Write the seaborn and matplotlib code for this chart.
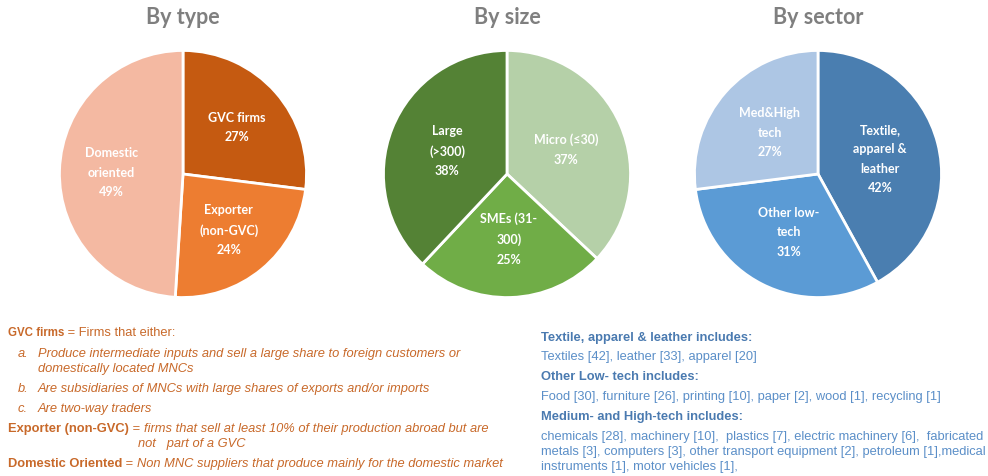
import matplotlib
matplotlib.use('Agg')
import matplotlib.pyplot as plt
import seaborn as sns

# chart data
type_labels = ['GVC firms', 'Exporter\n(non-GVC)', 'Domestic\noriented']
type_shares = [27, 24, 49]
size_labels = ['Micro (≤30)', 'SMEs (31-\n300)', 'Large\n(>300)']
size_shares = [37, 25, 38]
sector_labels = ['Textile,\napparel &\nleather', 'Other low-\ntech', 'Med&High\ntech']
sector_shares = [42, 31, 27]

type_colors = ['#C55A11', '#ED7D31', '#F4B9A2']
size_colors = ['#B5D0A8', '#70AD47', '#548235']
sector_colors = ['#4A7EB0', '#5B9BD5', '#ADC6E4']

sns.set_style('white')
plt.rcParams['font.family'] = ['Liberation Sans', 'DejaVu Sans']

W, H = 988, 477
fig = plt.figure(figsize=(W / 100, H / 100), dpi=100)


def draw_pie(cx, cy, r, shares, labels, colors, title, dist):
    ax = fig.add_axes([(cx - r) / W, 1 - (cy + r) / H, 2 * r / W, 2 * r / H])
    wedges, texts = ax.pie(shares, labels=[f'{l}\n{s}%' for l, s in zip(labels, shares)],
                           colors=colors, startangle=90, counterclock=False,
                           labeldistance=dist,
                           wedgeprops=dict(edgecolor='white', linewidth=2),
                           textprops=dict(color='white', fontsize=9, fontweight='bold',
                                          family=['Lato', 'DejaVu Sans'], linespacing=1.75))
    for t in texts:
        t.set_ha('center')
        t.set_va('center')
    ax.set_xlim(-1.02, 1.02)
    ax.set_ylim(-1.02, 1.02)
    ax.set_aspect('equal')
    ax.axis('off')
    fig.text(cx / W, 1 - 17 / H, title, ha='center', va='center', fontsize=15.5,
             fontweight='bold', color='#7F7F7F', family=['Lato', 'DejaVu Sans'])
    return ax


draw_pie(183, 175, 126, type_shares, type_labels, type_colors, 'By type', 0.58)
draw_pie(507, 175, 126, size_shares, size_labels, size_colors, 'By size', 0.52)
draw_pie(818, 175, 126, sector_shares, sector_labels, sector_colors, 'By sector', 0.52)

# notes below the pies
nax = fig.add_axes([0, 0, 1, 1])
nax.axis('off')
nax.set_xlim(0, 1)
nax.set_ylim(0, 1)


def px(x, y):
    return (x / W, 1 - y / H)


def line(x, y, parts, color):
    prev = None
    for txt, size, weight, style in parts:
        if prev is None:
            prev = nax.text(*px(x, y), txt, fontsize=size, fontweight=weight, fontstyle=style,
                            color=color, ha='left', va='center')
        else:
            prev = nax.annotate(txt, xy=(1, 0), xycoords=prev, fontsize=size, fontweight=weight,
                                fontstyle=style, color=color, ha='left', va='bottom')


orange = '#C8692A'
fs = 9.3
line(8, 333, [('GVC firms', 8.3, 'bold', 'normal'), (' = Firms that either:', fs, 'normal', 'normal')], orange)
line(18, 354, [('a.', fs, 'normal', 'italic')], orange)
line(38, 354, [('Produce intermediate inputs and sell a large share to foreign customers or', fs, 'normal', 'italic')], orange)
line(38, 369, [('domestically located MNCs', fs, 'normal', 'italic')], orange)
line(18, 389, [('b.', fs, 'normal', 'italic')], orange)
line(38, 389, [('Are subsidiaries of MNCs with large shares of exports and/or imports', fs, 'normal', 'italic')], orange)
line(18, 409, [('c.', fs, 'normal', 'italic')], orange)
line(38, 409, [('Are two-way traders', fs, 'normal', 'italic')], orange)
line(8, 429, [('Exporter (non-GVC)', fs, 'bold', 'normal'), (' = ', fs, 'normal', 'normal'),
              ('firms that sell at least 10% of their production abroad but are', fs, 'normal', 'italic')], orange)
line(138, 444, [('not   part of a GVC', fs, 'normal', 'italic')], orange)
line(8, 464, [('Domestic Oriented', fs, 'bold', 'normal'), (' = ', fs, 'normal', 'normal'),
              ('Non MNC suppliers that produce mainly for the domestic market', fs, 'normal', 'italic')], orange)

blue_h = '#4A7AB0'
blue = '#5B8FC8'
fb = 9.3
line(541, 338, [('Textile, apparel & leather includes:', fb, 'bold', 'normal')], blue_h)
line(541, 357, [('Textiles [42], leather [33], apparel [20]', fb, 'normal', 'normal')], blue)
line(541, 377, [('Other Low- tech includes:', fb, 'bold', 'normal')], blue_h)
line(541, 397, [('Food [30], furniture [26], printing [10], paper [2], wood [1], recycling [1]', fb, 'normal', 'normal')], blue)
line(541, 417, [('Medium- and High-tech includes:', fb, 'bold', 'normal')], blue_h)
line(541, 437, [('chemicals [28], machinery [10],  plastics [7], electric machinery [6],  fabricated', fb, 'normal', 'normal')], blue)
line(541, 452, [('metals [3], computers [3], other transport equipment [2], petroleum [1],medical', fb, 'normal', 'normal')], blue)
line(541, 467, [('instruments [1], motor vehicles [1],', fb, 'normal', 'normal')], blue)

fig.savefig('out.png', dpi=100)
